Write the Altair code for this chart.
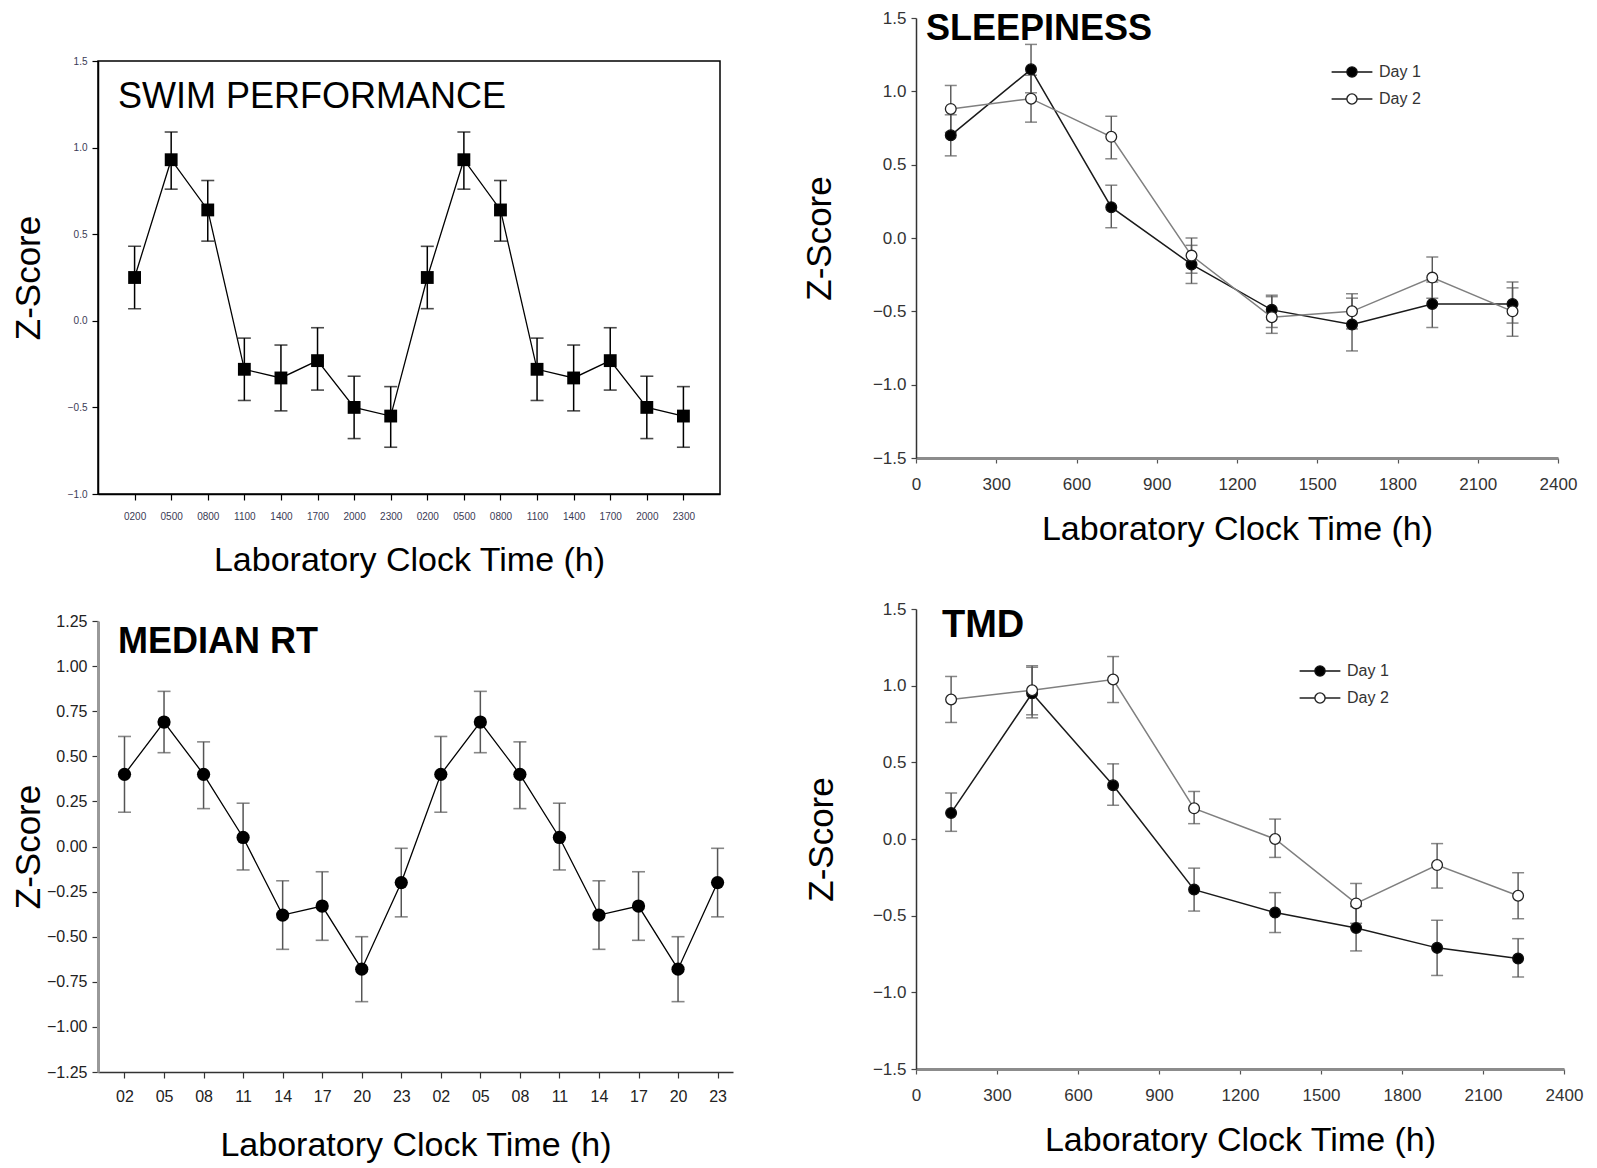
import altair as alt
import pandas as pd

SANS = "Liberation Sans, Arial, Helvetica, sans-serif"
NARROW = "Liberation Sans Narrow, Liberation Sans, Arial, sans-serif"

# ---------------- text ----------------
panel_titles = ["SWIM PERFORMANCE", "SLEEPINESS", "MEDIAN RT", "TMD"]
x_title = "Laboratory Clock Time (h)"
y_title = "Z-Score"
day_names = ["Day 1", "Day 2"]

# ---------------- swim performance ----------------
swim_hours = ["0200", "0500", "0800", "1100", "1400", "1700", "2000", "2300",
              "0200", "0500", "0800", "1100", "1400", "1700", "2000", "2300"]
swim_mean = [0.25, 0.93, 0.64, -0.28, -0.33, -0.23, -0.50, -0.55,
             0.25, 0.93, 0.64, -0.28, -0.33, -0.23, -0.50, -0.55]
swim_hi = [0.43, 1.09, 0.81, -0.10, -0.14, -0.04, -0.32, -0.38,
           0.43, 1.09, 0.81, -0.10, -0.14, -0.04, -0.32, -0.38]
swim_lo = [0.07, 0.76, 0.46, -0.46, -0.52, -0.40, -0.68, -0.73,
           0.07, 0.76, 0.46, -0.46, -0.52, -0.40, -0.68, -0.73]
swim_yticks = [-1.0, -0.5, 0.0, 0.5, 1.0, 1.5]

# ---------------- median RT ----------------
rt_hours = ["02", "05", "08", "11", "14", "17", "20", "23",
            "02", "05", "08", "11", "14", "17", "20", "23"]
rt_mean = [0.40, 0.69, 0.40, 0.05, -0.38, -0.33, -0.68, -0.20,
           0.40, 0.69, 0.40, 0.05, -0.38, -0.33, -0.68, -0.20]
rt_hi = [0.61, 0.86, 0.58, 0.24, -0.19, -0.14, -0.50, -0.01,
         0.61, 0.86, 0.58, 0.24, -0.19, -0.14, -0.50, -0.01]
rt_lo = [0.19, 0.52, 0.21, -0.13, -0.57, -0.52, -0.86, -0.39,
         0.19, 0.52, 0.21, -0.13, -0.57, -0.52, -0.86, -0.39]
rt_yticks = [-1.25, -1.0, -0.75, -0.5, -0.25, 0.0, 0.25, 0.5, 0.75, 1.0, 1.25]

# ---------------- sleepiness / TMD ----------------
clock_times = [130, 430, 730, 1030, 1330, 1630, 1930, 2230]
clock_ticks = [0, 300, 600, 900, 1200, 1500, 1800, 2100, 2400]
day_yticks = [-1.5, -1.0, -0.5, 0.0, 0.5, 1.0, 1.5]

sleep_d1 = [0.70, 1.15, 0.21, -0.18, -0.49, -0.59, -0.45, -0.45]
sleep_d1_hi = [0.84, 1.32, 0.36, -0.05, -0.39, -0.41, -0.30, -0.34]
sleep_d1_lo = [0.56, 0.99, 0.07, -0.31, -0.61, -0.77, -0.61, -0.58]
sleep_d2 = [0.88, 0.95, 0.69, -0.12, -0.54, -0.50, -0.27, -0.50]
sleep_d2_hi = [1.04, 1.11, 0.83, 0.00, -0.40, -0.38, -0.13, -0.30]
sleep_d2_lo = [0.72, 0.79, 0.54, -0.24, -0.65, -0.62, -0.41, -0.67]

tmd_d1 = [0.17, 0.95, 0.35, -0.33, -0.48, -0.58, -0.71, -0.78]
tmd_d1_hi = [0.30, 1.12, 0.49, -0.19, -0.35, -0.44, -0.53, -0.65]
tmd_d1_lo = [0.05, 0.79, 0.22, -0.47, -0.61, -0.73, -0.89, -0.90]
tmd_d2 = [0.91, 0.97, 1.04, 0.20, 0.00, -0.42, -0.17, -0.37]
tmd_d2_hi = [1.06, 1.13, 1.19, 0.31, 0.13, -0.29, -0.03, -0.22]
tmd_d2_lo = [0.76, 0.81, 0.89, 0.10, -0.12, -0.55, -0.32, -0.52]

LEG_PATH = ("M-3.4,0L-0.85,0M0.85,0L3.4,0"
            "M0.85,0A0.85,0.85,0,1,1,-0.85,0A0.85,0.85,0,1,1,0.85,0Z")


def title_text(text, x, y, weight, size):
    return alt.Chart(pd.DataFrame({"t": [text]})).mark_text(
        align="left", baseline="middle", font=SANS, fontSize=size,
        fontWeight=weight, color="black"
    ).encode(x=alt.value(x), y=alt.value(y), text="t:N")


def lookup_expr(labels):
    return "[" + ",".join("'%s'" % s for s in labels) + "][datum.value]"


def index_panel(labels, mean, hi, lo, yticks, yfmt, xdom, ydom, w, h,
                title, title_xy, title_weight, label_size, frame, marker,
                x_lab_pad, x_title_pad):
    df = pd.DataFrame({"idx": list(range(len(labels))), "z": mean, "hi": hi, "lo": lo})
    xs = alt.Scale(domain=xdom, nice=False, zero=False)
    ys = alt.Scale(domain=ydom, nice=False, zero=False)
    ink = "black" if frame else "#333333"
    xax = alt.Axis(values=list(range(len(labels))), labelExpr=lookup_expr(labels),
                   title=x_title, titleFont=SANS, titleFontSize=34, titleFontWeight="normal",
                   titleColor="black", titlePadding=x_title_pad,
                   labelFont=SANS if frame else NARROW,
                   labelFontSize=label_size, labelColor="#3a3a55" if frame else "#222222",
                   labelPadding=x_lab_pad, labelAngle=0, labelFlush=False, tickSize=6,
                   tickColor=ink, tickWidth=1.2, domainColor=ink, domainWidth=1.5, grid=False)
    yax = alt.Axis(values=yticks, format=yfmt, title=y_title, titleFont=SANS,
                   titleFontSize=35, titleFontWeight="normal", titleColor="black",
                   titleX=-70, titleY=h / 2, titleAngle=270, titleBaseline="middle",
                   labelFont=SANS if frame else NARROW,
                   labelFontSize=10 if frame else 16,
                   labelColor="#3a3a55" if frame else "#222222", labelPadding=5,
                   tickSize=6, tickColor=ink, tickWidth=1.2,
                   domainColor="black" if frame else "#999999",
                   domainWidth=1.5 if frame else 3, grid=False)
    bar_color = "black" if frame else "#555555"
    b = alt.Chart(df)
    xe = alt.X("idx:Q", scale=xs, axis=xax)
    Y = lambda f: alt.Y(f, type="quantitative", scale=ys, axis=yax)
    layers = [
        b.mark_rule(color=bar_color, strokeWidth=1.5).encode(x=xe, y=Y("lo"), y2="hi:Q"),
        b.mark_tick(orient="horizontal", size=13, thickness=1.6, color=bar_color).encode(
            x=xe, y=Y("hi")),
        b.mark_tick(orient="horizontal", size=13, thickness=1.6, color=bar_color).encode(
            x=xe, y=Y("lo")),
        b.mark_line(color="black", strokeWidth=1.3).encode(x=xe, y=Y("z")),
        b.mark_point(shape=marker, filled=True, color="black", size=165 if frame else 175,
                     opacity=1).encode(x=xe, y=Y("z")),
        title_text(title, title_xy[0], title_xy[1], title_weight, 36),
    ]
    props = dict(width=w, height=h)
    if frame:
        props["view"] = alt.ViewBackground(stroke="black", strokeWidth=1.5)
    return alt.layer(*layers).properties(**props)


def day_panel(title, title_pos, title_size, d1, d1hi, d1lo, d2, d2hi, d2lo,
              w, h, title_x, lx, ly):
    n = len(clock_times)
    df = pd.DataFrame({
        "time": clock_times + clock_times,
        "z": d1 + d2, "hi": d1hi + d2hi, "lo": d1lo + d2lo,
        "day": [day_names[0]] * n + [day_names[1]] * n,
    })
    xs = alt.Scale(domain=[0, 2400], nice=False, zero=False)
    ys = alt.Scale(domain=[-1.5, 1.5], nice=False, zero=False)
    xax = alt.Axis(values=clock_ticks, format="d", title=x_title, titleFont=SANS,
                   titleFontSize=34, titleFontWeight="normal", titleColor="black",
                   titlePadding=20, labelFont=NARROW, labelFontSize=17,
                   labelColor="#333333", labelPadding=13, labelFlush=False,
                   tickSize=5, tickColor="#555555", tickWidth=1.2,
                   domainColor="#8c8c8c", domainWidth=3, grid=False)
    yax = alt.Axis(values=day_yticks, format=".1f", title=y_title, titleFont=SANS,
                   titleFontSize=35, titleFontWeight="normal", titleColor="black",
                   titleX=title_x, titleY=h / 2, titleAngle=270, titleBaseline="middle",
                   labelFont=NARROW, labelFontSize=17, labelColor="#333333",
                   labelPadding=5, tickSize=5, tickColor="#444444", tickWidth=1.2,
                   domainColor="#333333", domainWidth=1.5, grid=False)
    leg = alt.Legend(orient="none", legendX=lx, legendY=ly, title=None,
                     symbolType=LEG_PATH, symbolSize=144, symbolStrokeWidth=1.4,
                     labelFont=SANS, labelFontSize=16, labelColor="#333333",
                     labelOffset=19, rowPadding=11)
    b = alt.Chart(df)
    xe = alt.X("time:Q", scale=xs, axis=xax)
    Y = lambda f: alt.Y(f, type="quantitative", scale=ys, axis=yax)
    layers = [
        b.mark_rule(color="#555555", strokeWidth=1.4).encode(x=xe, y=Y("lo"), y2="hi:Q"),
        b.mark_tick(orient="horizontal", size=12, thickness=1.5, color="#555555").encode(
            x=xe, y=Y("hi")),
        b.mark_tick(orient="horizontal", size=12, thickness=1.5, color="#555555").encode(
            x=xe, y=Y("lo")),
        b.transform_filter(alt.datum.day == day_names[0]).mark_line(
            strokeWidth=1.5, color="#1a1a1a").encode(x=xe, y=Y("z")),
        b.transform_filter(alt.datum.day == day_names[1]).mark_line(
            strokeWidth=1.5, color="#7f7f7f").encode(x=xe, y=Y("z")),
        b.mark_point(filled=True, size=115, strokeWidth=1.3, opacity=1).encode(
            x=xe, y=Y("z"),
            fill=alt.Fill("day:N", scale=alt.Scale(domain=day_names,
                                                   range=["#000000", "#ffffff"]),
                          legend=leg),
            stroke=alt.Stroke("day:N", scale=alt.Scale(domain=day_names,
                                                       range=["#111111", "#222222"]),
                              legend=leg)),
        title_text(title, title_pos[0], title_pos[1], "bold", title_size),
    ]
    return alt.layer(*layers).properties(width=w, height=h)


p1 = index_panel(swim_hours, swim_mean, swim_hi, swim_lo, swim_yticks, ".1f",
                 [-1, 16], [-1.0, 1.5], 622, 433, panel_titles[0], (20, 36), "normal",
                 10, True, "square", 11, 22)
p3 = index_panel(rt_hours, rt_mean, rt_hi, rt_lo, rt_yticks, ".2f",
                 [-0.67, 15.39], [-1.25, 1.25], 635, 451, panel_titles[2], (20, 21), "bold",
                 16, False, "circle", 10, 24)
p2 = day_panel(panel_titles[1], (10, 11), 36, sleep_d1, sleep_d1_hi, sleep_d1_lo,
               sleep_d2, sleep_d2_hi, sleep_d2_lo, 642, 440, -97, 428, 46)
p4 = day_panel(panel_titles[3], (26, 17), 38, tmd_d1, tmd_d1_hi, tmd_d1_lo,
               tmd_d2, tmd_d2_hi, tmd_d2_lo, 648, 460, -95, 396, 54)

spacer = alt.Chart(pd.DataFrame({"v": [0]})).mark_point(opacity=0).encode(
    x=alt.X("v:Q", axis=None), y=alt.Y("v:Q", axis=None)
).properties(width=10, height=2)

left = alt.vconcat(alt.vconcat(spacer, p1, spacing=32), p3, spacing=34)
right = alt.vconcat(p2, p4, spacing=52).resolve_scale(
    fill="independent", stroke="independent"
).resolve_legend(fill="independent", stroke="independent")

chart = alt.hconcat(left, right, spacing=67).resolve_scale(
    fill="independent", stroke="independent"
).resolve_legend(fill="independent", stroke="independent").properties(
    padding={"left": 2, "top": 0, "right": 0, "bottom": 0}
).configure(font=SANS).configure_view(stroke="transparent")

chart.save("out.html", embed_options={"renderer": "svg", "actions": False})
